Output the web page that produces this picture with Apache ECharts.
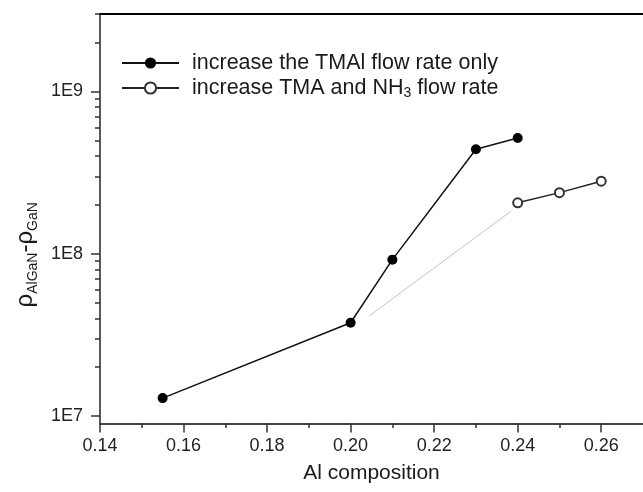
<!DOCTYPE html>
<html>
<head>
<meta charset="utf-8">
<script src="https://cdn.jsdelivr.net/npm/echarts@6/dist/echarts.min.js"></script>
<style>html,body{margin:0;padding:0;background:#fff}#c{width:643px;height:492px}</style>
</head>
<body>
<div id="c"></div>
<script>
// ---- data ----
const seriesNames = ['increase the TMAl flow rate only', 'increase TMA and NH3 flow rate'];
const xTMAl = [0.155, 0.20, 0.21, 0.23, 0.24];
const yTMAl = [1.29e7, 3.76e7, 9.2e7, 4.4e8, 5.16e8];
const xBoth = [0.24, 0.25, 0.26];
const yBoth = [2.06e8, 2.38e8, 2.8e8];
const xTrend = [0.2045, 0.2383];
const yTrend = [4.15e7, 1.82e8];
const xMajorTicks = [0.14, 0.16, 0.18, 0.20, 0.22, 0.24, 0.26];
const xMinorTicks = [0.15, 0.17, 0.19, 0.21, 0.23, 0.25];
const yMajorTicks = [1e7, 1e8, 1e9];
const yMinorTicks = [2e7,3e7,4e7,5e7,6e7,7e7,8e7,9e7,2e8,3e8,4e8,5e8,6e8,7e8,8e8,9e8,2e9,3e9];

const zip = (xs, ys) => xs.map((x, i) => [x, ys[i]]);
const FONT = 'Liberation Sans, Arial, sans-serif';

const chart = echarts.init(document.getElementById('c'), null, {renderer: 'canvas'});
const axisCommon = {min: 0.14, max: 0.27};
const yCommon = {type: 'log', logBase: 10, min: 9e6, max: 3e9};

chart.setOption({
  animation: false,
  backgroundColor: '#fff',
  grid: {left: 100, top: 14, width: 549, height: 409.5, containLabel: false},
  legend: {
    data: seriesNames,
    orient: 'vertical',
    left: 116, top: 47,
    itemWidth: 57, itemHeight: 14, itemGap: 3,
    formatter: function (name) {
      if (name.indexOf('NH3') >= 0) {
        const p = name.split('NH3');
        return '{n|' + p[0] + 'NH}{s|3}{n|' + p[1] + '}';
      }
      return '{n|' + name + '}';
    },
    textStyle: {
      fontFamily: FONT, color: '#1a1a1a', padding: [0,0,0,8],
      rich: {
        n: {fontFamily: FONT, fontSize: 21.5, lineHeight: 24, color: '#1a1a1a'},
        s: {fontFamily: FONT, fontSize: 14, lineHeight: 8, verticalAlign: 'bottom', color: '#1a1a1a'}
      }
    }
  },
  xAxis: [
    Object.assign({
      type: 'value', position: 'bottom',
      name: 'Al composition', nameLocation: 'middle', nameGap: 39,
      nameTextStyle: {fontFamily: FONT, fontSize: 21, color: '#1a1a1a'},
      axisLine: {show: true, onZero: false, lineStyle: {color: '#444', width: 2}},
      axisTick: {show: true, customValues: xMajorTicks, length: 9, lineStyle: {color: '#333', width: 1.5}},
      axisLabel: {show: true, customValues: xMajorTicks, margin: 14, fontFamily: FONT, fontSize: 18, color: '#222',
        formatter: v => v.toFixed(2)},
      splitLine: {show: false}
    }, axisCommon),
    Object.assign({
      type: 'value', position: 'bottom',
      axisLine: {show: false},
      axisTick: {show: true, customValues: xMinorTicks, length: 4.5, lineStyle: {color: '#333', width: 1.5}},
      axisLabel: {show: false},
      splitLine: {show: false}
    }, axisCommon),
    Object.assign({
      type: 'value', position: 'top',
      axisLine: {show: true, onZero: false, lineStyle: {color: '#000', width: 2}},
      axisTick: {show: false}, axisLabel: {show: false}, splitLine: {show: false}
    }, axisCommon)
  ],
  yAxis: [
    Object.assign({
      position: 'left',
      name: '{r|ρ}{s|AlGaN}{r|-ρ}{s|GaN}', nameLocation: 'middle', nameGap: 60, nameRotate: 90,
      nameTextStyle: {
        fontFamily: FONT, color: '#1a1a1a', padding: [0, 72, 0, 0],
        rich: {
          r: {fontFamily: FONT, fontSize: 24, lineHeight: 30, color: '#1a1a1a'},
          s: {fontFamily: FONT, fontSize: 14, lineHeight: 10, verticalAlign: 'bottom', color: '#1a1a1a'}
        }
      },
      axisLine: {show: true, onZero: false, lineStyle: {color: '#222', width: 1.5}},
      axisTick: {show: true, customValues: yMajorTicks, length: 9, lineStyle: {color: '#333', width: 1.5}},
      axisLabel: {show: true, customValues: yMajorTicks, margin: 17, fontFamily: FONT, fontSize: 18, color: '#222',
        formatter: v => '1E' + Math.round(Math.log10(v))},
      splitLine: {show: false}, minorSplitLine: {show: false}
    }, yCommon),
    Object.assign({
      position: 'left',
      axisLine: {show: false},
      axisTick: {show: true, customValues: yMinorTicks, length: 5, lineStyle: {color: '#333', width: 1.5}},
      axisLabel: {show: false},
      splitLine: {show: false}
    }, yCommon)
  ],
  series: [
    {
      name: 'trend', type: 'line', xAxisIndex: 0, yAxisIndex: 0,
      data: zip(xTrend, yTrend), showSymbol: false, symbol: 'none',
      lineStyle: {color: '#c4c4c4', width: 1}, silent: true, z: 1
    },
    {
      name: seriesNames[0], type: 'line', xAxisIndex: 0, yAxisIndex: 0,
      data: zip(xTMAl, yTMAl), symbol: 'circle', symbolSize: 10,
      itemStyle: {color: '#000'},
      lineStyle: {color: '#111', width: 1.5}, z: 3
    },
    {
      name: seriesNames[1], type: 'line', xAxisIndex: 0, yAxisIndex: 0,
      data: zip(xBoth, yBoth), symbol: 'emptyCircle', symbolSize: 9,
      itemStyle: {color: '#333', borderWidth: 1.5, borderColor: '#333'},
      lineStyle: {color: '#222', width: 1.5}, z: 3
    }
  ]
});
</script>
</body>
</html>
